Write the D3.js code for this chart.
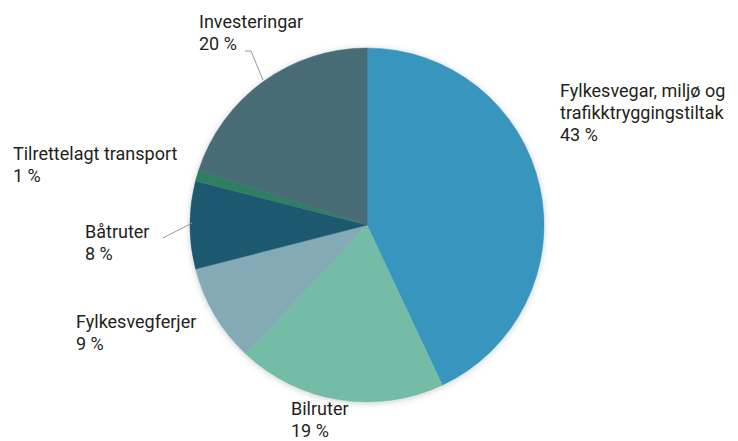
<!DOCTYPE html>
<html>
<head>
<meta charset="utf-8">
<script src="https://cdn.jsdelivr.net/npm/d3@7"></script>
<style>
  body { margin: 0; background: #fff; }
  text { font-family: Roboto, "Open Sans", sans-serif; fill: #231f20; }
</style>
</head>
<body>
<svg></svg>
<script>
const width = 738;
const height = 441;

// data, clockwise from 12 o'clock
const categories = ['Fylkesvegar, miljø og trafikktryggingstiltak', 'Bilruter', 'Fylkesvegferjer', 'Båtruter', 'Tilrettelagt transport', 'Investeringar'];
const values = [43, 19, 9, 8, 1, 20];
const labelLines = [
  ['Fylkesvegar, miljø og', 'trafikktryggingstiltak', '43 %'],
  ['Bilruter', '19 %'],
  ['Fylkesvegferjer', '9 %'],
  ['Båtruter', '8 %'],
  ['Tilrettelagt transport', '1 %'],
  ['Investeringar', '20 %']
];
const colors = ['#3795bd', '#74bca6', '#84abb5', '#1f5870', '#2f7e62', '#476c76'];

// label placement (top-left x, first baseline y)
const labelPos = [[560, 97], [291, 415], [76, 328], [85, 238], [13, 160], [199, 28]];
const leaders = [
  null, null, null,
  [[163, 238], [192, 223]],
  null,
  [[245, 51], [251, 51], [263, 80]]
];

const cx = 367, cy = 225, radius = 177;

const svg = d3.select('svg')
  .attr('width', width)
  .attr('height', height);

const defs = svg.append('defs');
const filt = defs.append('filter').attr('id', 'shadow')
  .attr('x', '-10%').attr('y', '-10%').attr('width', '120%').attr('height', '120%');
filt.append('feDropShadow')
  .attr('dx', 0).attr('dy', 1)
  .attr('stdDeviation', 3)
  .attr('flood-color', '#000')
  .attr('flood-opacity', 0.2);

const pie = d3.pie().sort(null).value(d => d);
const arc = d3.arc().innerRadius(0).outerRadius(radius);

const g = svg.append('g')
  .attr('transform', `translate(${cx},${cy})`)
  .attr('filter', 'url(#shadow)');

g.selectAll('path')
  .data(pie(values))
  .enter()
  .append('path')
    .attr('d', arc)
    .style('fill', (d, i) => colors[i])
    .style('stroke', (d, i) => colors[i])
    .style('stroke-width', 0.5);

// leader lines
leaders.forEach(pts => {
  if (!pts) return;
  svg.append('path')
    .attr('d', d3.line()(pts))
    .style('fill', 'none')
    .style('stroke', '#999')
    .style('stroke-width', 1);
});

// labels
labelLines.forEach((lines, i) => {
  const t = svg.append('text')
    .attr('x', labelPos[i][0])
    .attr('y', labelPos[i][1])
    .style('font-size', '18px');
  lines.forEach((ln, j) => {
    t.append('tspan')
      .attr('x', labelPos[i][0])
      .attr('dy', j === 0 ? 0 : 22)
      .text(ln);
  });
});
</script>
</body>
</html>
